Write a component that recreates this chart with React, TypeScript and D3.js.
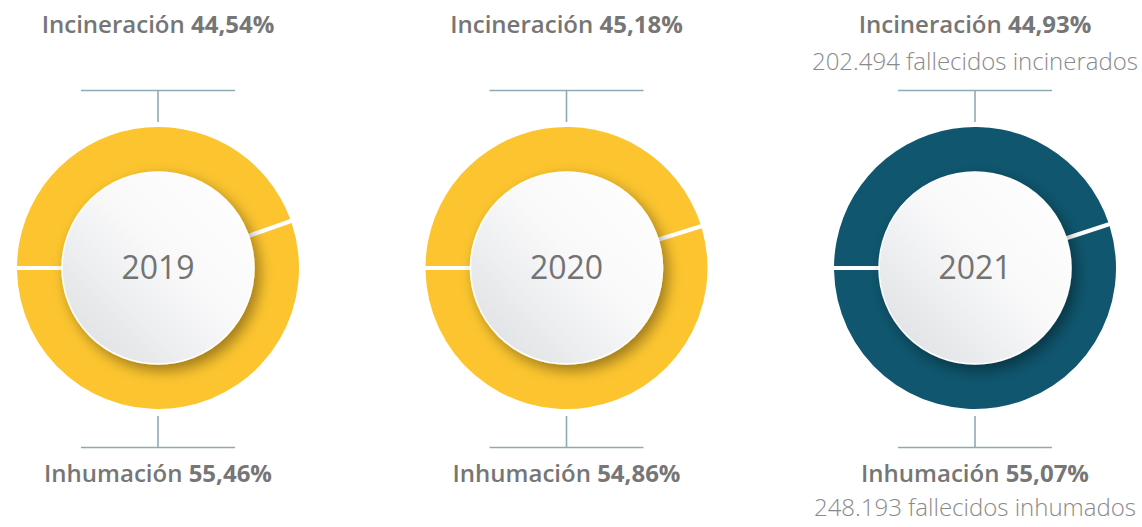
import React from "react";
import * as d3 from "d3";

const years = ["2019", "2020", "2021"];
const incineracion = [44.54, 45.18, 44.93];
const inhumacion = [55.46, 54.86, 55.07];
const ringColors = ["#FCC52F", "#FCC52F", "#0F566E"];
const subTop = ["", "", "202.494 fallecidos incinerados"];
const subBottom = ["", "", "248.193 fallecidos inhumados"];
const labelTop = "Incineración";
const labelBottom = "Inhumación";

const W = 1142;
const H = 527;
const CY = 268;
const R_OUT = 141;
const R_IN = 88;
const R_DISC = 96;

const locale = d3.formatLocale({ decimal: ",", thousands: ".", grouping: [3], currency: ["", "€"] });
const fmt = locale.format(".2f");

const FONT = "'Open Sans', sans-serif";
const TEXT = "#767676";
const LINE = "#8DABB7";

export default function App() {
  const x = d3.scalePoint<string>().domain(years).range([158, 975]);
  const pie = d3
    .pie<number>()
    .sort(null)
    .value((d) => d)
    .startAngle(-Math.PI / 2)
    .endAngle((3 * Math.PI) / 2)
    .padAngle(0.03);
  const arc = d3.arc<d3.PieArcDatum<number>>().innerRadius(R_IN).outerRadius(R_OUT).padRadius(R_OUT);

  return (
    <svg width={W} height={H} style={{ position: "absolute", left: 0, top: 0 }} fontFamily={FONT}>
      <defs>
        <linearGradient id="disc" x1="1" y1="0" x2="0" y2="1">
          <stop offset="0" stopColor="#FFFFFF" />
          <stop offset="0.45" stopColor="#F9F9FA" />
          <stop offset="1" stopColor="#DADDE0" />
        </linearGradient>
        <filter id="shadow" x="-30%" y="-30%" width="160%" height="160%">
          <feDropShadow dx="5" dy="6" stdDeviation="7" floodColor="#000" floodOpacity="0.38" />
        </filter>
      </defs>
      {years.map((yr, i) => {
        const cx = x(yr)!;
        const arcs = pie([incineracion[i], inhumacion[i]]);
        return (
          <g key={yr}>
            <text x={cx} y={33} textAnchor="middle" fontSize={24} fill={TEXT} fontWeight={600}>
              {labelTop} <tspan fontWeight={700}>{fmt(incineracion[i])}%</tspan>
            </text>
            {subTop[i] && (
              <text x={cx} y={70} textAnchor="middle" fontSize={24} fill="#8a8a8a" fontWeight={300}>
                {subTop[i]}
              </text>
            )}
            <line x1={cx - 77} x2={cx + 77} y1={90.5} y2={90.5} stroke={LINE} strokeWidth={1.6} />
            <line x1={cx} x2={cx} y1={90.5} y2={122} stroke={LINE} strokeWidth={1.6} />
            <line x1={cx} x2={cx} y1={416} y2={447.5} stroke={LINE} strokeWidth={1.6} />
            <line x1={cx - 77} x2={cx + 77} y1={447.5} y2={447.5} stroke={LINE} strokeWidth={1.6} />
            <g transform={`translate(${cx},${CY})`}>
              {arcs.map((a, j) => (
                <path key={j} d={arc(a)!} fill={ringColors[i]} />
              ))}
              <circle r={R_DISC} fill="url(#disc)" stroke="#FFFFFF" strokeWidth={1.5} filter="url(#shadow)" />
              <text y={11} textAnchor="middle" fontSize={32} fill="#737373" fontWeight={400}>
                {yr}
              </text>
            </g>
            <text x={cx} y={482} textAnchor="middle" fontSize={24} fill={TEXT} fontWeight={600}>
              {labelBottom} <tspan fontWeight={700}>{fmt(inhumacion[i])}%</tspan>
            </text>
            {subBottom[i] && (
              <text x={cx} y={516} textAnchor="middle" fontSize={24} fill="#8a8a8a" fontWeight={300}>
                {subBottom[i]}
              </text>
            )}
          </g>
        );
      })}
    </svg>
  );
}
